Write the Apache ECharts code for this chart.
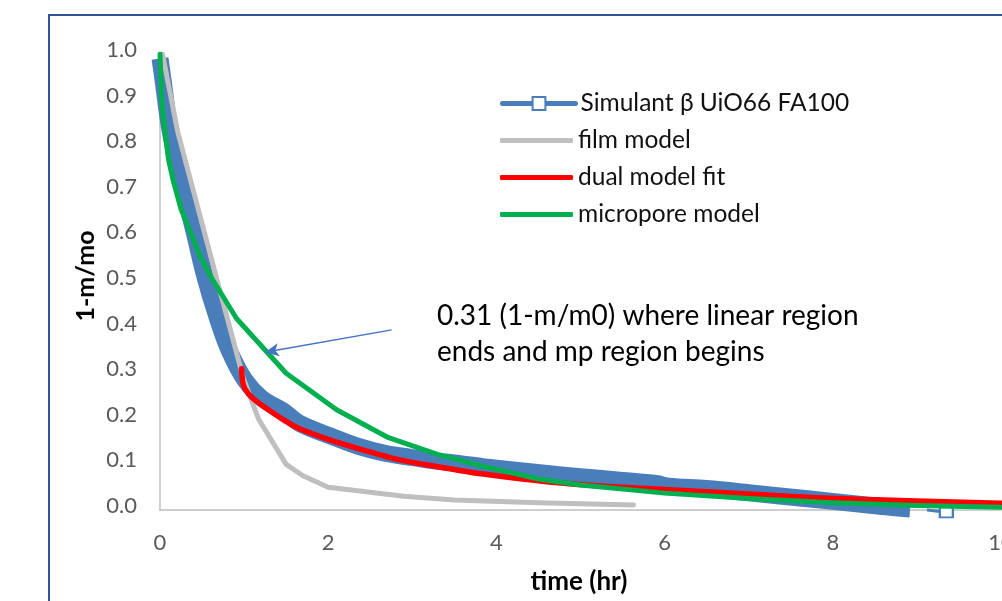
<!DOCTYPE html>
<html>
<head>
<meta charset="utf-8">
<script src="https://cdn.jsdelivr.net/npm/echarts@6/dist/echarts.min.js"></script>
<style>
html,body{margin:0;padding:0;background:#fff;}
#c{width:1002px;height:601px;}
</style>
</head>
<body>
<div id="c"></div>
<script>
// ---- data (time in hr, value 1-m/mo) ----
const xTicks = [0, 2, 4, 6, 8, 10];
const yTicks = [0, 0.1, 0.2, 0.3, 0.4, 0.5, 0.6, 0.7, 0.8, 0.9, 1.0];

const simT = [0, 0.036, 0.119, 0.25, 0.40, 0.535, 0.678, 0.82, 1.01, 1.21, 1.46, 1.66, 2.06, 2.35, 2.66, 3.0, 3.25, 3.5, 3.84, 4.2, 4.6, 5.0, 5.5, 5.9, 6.05, 6.5, 7.0, 7.4, 8.0, 8.56, 8.92];
const simV = [0.99, 0.943, 0.833, 0.724, 0.614, 0.511, 0.423, 0.351, 0.285, 0.245, 0.218, 0.19, 0.16, 0.14, 0.125, 0.115, 0.108, 0.103, 0.095, 0.088, 0.08, 0.073, 0.065, 0.058, 0.052, 0.047, 0.038, 0.03, 0.019, 0.008, 0.002];
const simTailT = [9.12, 9.35];
const simTailV = [0.0, -0.005];

const filmT = [0.03, 0.21, 0.67, 0.99, 1.17, 1.5, 1.7, 2.0, 2.9, 3.5, 4.5, 5.63];
const filmV = [1.0, 0.83, 0.51, 0.29, 0.2, 0.1, 0.075, 0.05, 0.03, 0.022, 0.016, 0.011];

const dualT = [0.97, 0.99, 1.05, 1.15, 1.27, 1.45, 1.66, 2.0, 2.26, 2.85, 3.3, 3.8, 4.6, 5.3, 6.0, 7.0, 7.8, 9.0, 10.0];
const dualV = [0.31, 0.275, 0.255, 0.238, 0.222, 0.2, 0.178, 0.155, 0.14, 0.11, 0.095, 0.08, 0.062, 0.052, 0.045, 0.035, 0.027, 0.02, 0.015];

const microT = [0, 0.02, 0.04, 0.06, 0.1, 0.16, 0.25, 0.36, 0.48, 0.61, 0.91, 1.5, 2.1, 2.7, 3.3, 3.8, 4.5, 5.0, 6.0, 7.0, 8.0, 9.0, 10.0];
const microV = [1.0, 0.9, 0.86, 0.83, 0.77, 0.72, 0.66, 0.61, 0.555, 0.51, 0.42, 0.30, 0.22, 0.16, 0.122, 0.098, 0.068, 0.055, 0.037, 0.025, 0.016, 0.010, 0.006];

const seriesNames = ['Simulant \u03B2 UiO66 FA100', 'film model', 'dual model fit', 'micropore model'];
const annotationLines = ['0.31 (1-m/m0) where linear region', 'ends and mp region begins'];
const arrowFrom = [2.754, 0.395];
const arrowTo = [1.248, 0.346];
const xTitle = 'time (hr)';
const yTitle = '1-m/mo';

const zip = (a, b) => a.map((v, i) => [v, b[i]]);
const FONT = 'Lato, "Open Sans", "DejaVu Sans", sans-serif';

const chart = echarts.init(document.getElementById('c'), null, {renderer: 'canvas'});

const legendBase = {
  orient: 'vertical', left: 500, padding: 0, itemGap: 0,
  itemWidth: 73, selectedMode: false,
  textStyle: {color: '#111', fontSize: 24.5, fontFamily: FONT, lineHeight: 20}
};

const option = {
  animation: false,
  backgroundColor: '#fff',
  grid: {left: 160, right: 1, top: 54, bottom: 91, containLabel: false, outerBoundsMode: 'none'},
  xAxis: {
    type: 'value', min: xTicks[0], max: xTicks[xTicks.length - 1], interval: xTicks[1] - xTicks[0],
    splitLine: {show: false}, axisTick: {show: false},
    axisLine: {show: true, onZero: false, lineStyle: {color: '#BFBFBF', width: 1.5}},
    axisLabel: {color: '#595959', fontSize: 22, fontFamily: FONT, margin: 22}
  },
  yAxis: {
    type: 'value', min: yTicks[0], max: yTicks[yTicks.length - 1], interval: yTicks[1] - yTicks[0],
    splitLine: {show: false}, axisTick: {show: false},
    axisLine: {show: true, onZero: false, lineStyle: {color: '#BFBFBF', width: 1.5}},
    axisLabel: {color: '#595959', fontSize: 22, fontFamily: FONT, margin: 23,
      verticalAlign: 'bottom', lineHeight: 8,
      formatter: v => v.toFixed(1)}
  },
  legend: [
    Object.assign({}, legendBase, {data: [seriesNames[0]], top: 101 - 10, itemHeight: 16,
      lineStyle: {width: 5, cap: 'round'}, itemStyle: {borderWidth: 1.5}}),
    Object.assign({}, legendBase, {data: [seriesNames[1]], top: 138 - 10, itemHeight: 5, icon: 'roundRect'}),
    Object.assign({}, legendBase, {data: [seriesNames[2]], top: 175 - 10, itemHeight: 5, icon: 'roundRect'}),
    Object.assign({}, legendBase, {data: [seriesNames[3]], top: 212 - 10, itemHeight: 5, icon: 'roundRect'})
  ],
  series: [
    {
      name: seriesNames[0], type: 'line', data: zip(simT, simV),
      symbol: 'emptyRect', showSymbol: false, smooth: 0.35,
      color: '#4A7EBB',
      lineStyle: {color: '#4A7EBB', width: 17, cap: 'butt', join: 'round'},
      z: 1
    },
    {
      name: seriesNames[0] + ' tail', type: 'line', data: zip(simTailT, simTailV).map((p, i) => i === 0 ? {value: p, symbol: 'none'} : {value: p}),
      symbol: 'emptyRect', symbolSize: [13, 10], showSymbol: true, clip: false,
      color: '#4A7EBB', itemStyle: {color: '#4A7EBB', borderWidth: 2},
      lineStyle: {color: '#4A7EBB', width: 3}, z: 1, legendHoverLink: false
    },
    {
      name: seriesNames[1], type: 'line', data: zip(filmT, filmV),
      symbol: 'none', smooth: false, color: '#BFBFBF',
      lineStyle: {color: '#BFBFBF', width: 5, cap: 'round', join: 'round'}, z: 2
    },
    {
      name: seriesNames[2], type: 'line', data: zip(dualT, dualV),
      symbol: 'none', smooth: 0.3, color: '#FF0000',
      lineStyle: {color: '#FF0000', width: 5.5, cap: 'round', join: 'round'}, z: 3
    },
    {
      name: seriesNames[3], type: 'line', data: zip(microT, microV),
      symbol: 'none', smooth: false, color: '#00B050',
      lineStyle: {color: '#00B050', width: 5, cap: 'round', join: 'round'}, z: 4,
      markLine: {
        silent: true, symbol: ['none', 'arrow'], symbolSize: [10, 14],
        label: {show: false},
        lineStyle: {color: '#4472C4', width: 1.5, type: 'solid'},
        data: [[{coord: arrowFrom}, {coord: arrowTo}]]
      }
    }
  ],
  graphic: [
    {type: 'rect', shape: {x: 49, y: 15, width: 1200, height: 800}, silent: true,
      style: {fill: 'none', stroke: '#2F5597', lineWidth: 2}, z: 100},
    {type: 'text', x: 86, y: 276, rotation: Math.PI / 2, silent: true,
      style: {text: yTitle, font: 'bold 25px ' + FONT, fill: '#000', textAlign: 'center', textVerticalAlign: 'middle'}},
    {type: 'text', x: 579, y: 582, silent: true,
      style: {text: xTitle, font: 'bold 26px ' + FONT, fill: '#000', textAlign: 'center', textVerticalAlign: 'middle'}},
    {type: 'text', x: 437, y: 316, silent: true,
      style: {text: annotationLines[0], font: '28px ' + FONT, fill: '#000', textAlign: 'left', textVerticalAlign: 'middle'}},
    {type: 'text', x: 437, y: 352, silent: true,
      style: {text: annotationLines[1], font: '28px ' + FONT, fill: '#000', textAlign: 'left', textVerticalAlign: 'middle'}}
  ]
};
chart.setOption(option);
</script>
</body>
</html>
